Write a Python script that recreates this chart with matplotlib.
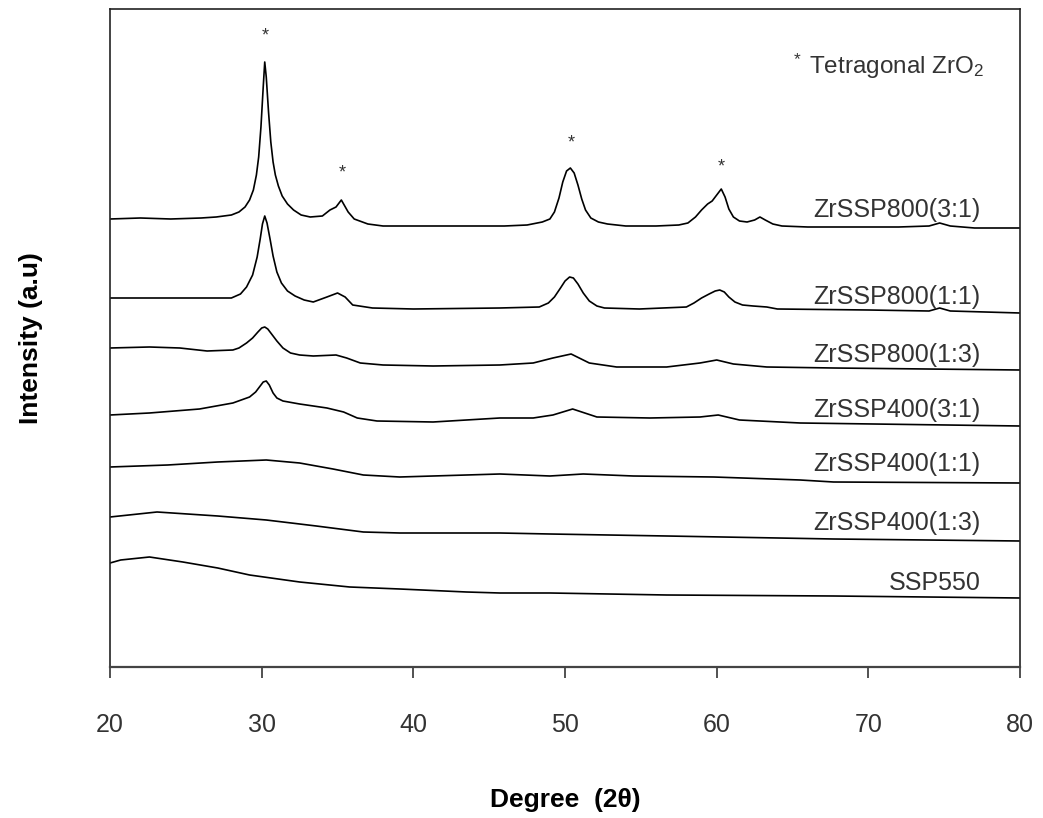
import matplotlib
matplotlib.use("Agg")
import matplotlib.pyplot as plt

plt.rcParams['font.family'] = ['Liberation Sans', 'DejaVu Sans']
plt.rcParams['mathtext.fontset'] = 'custom'
plt.rcParams['mathtext.rm'] = 'Liberation Sans'
plt.rcParams['mathtext.it'] = 'Liberation Sans:italic'

# 2theta / stacked intensity (a.u.)
x_800_31 = [20, 22, 24, 26, 27, 28.0, 28.5, 28.9, 29.2, 29.45, 29.65, 29.8, 29.95, 30.1, 30.2,
            30.3, 30.45, 30.6, 30.75, 30.9, 31.1, 31.35, 31.7, 32.1, 32.6, 33.2, 34.0, 34.5,
            34.9, 35.25, 35.7, 36.1, 37, 38, 40, 42, 44, 46, 47.5, 48.5, 49.0, 49.3, 49.6,
            49.85, 50.1, 50.35, 50.6, 50.85, 51.1, 51.35, 51.7, 52.2, 52.8, 54, 56, 57.5,
            58.1, 58.6, 59.0, 59.4, 59.7, 60.0, 60.3, 60.55, 60.8, 61.1, 61.5, 62.0, 62.5,
            62.85, 63.2, 63.7, 64.3, 66, 68, 70, 72, 74, 74.7, 75.4, 77, 80]
y_800_31 = [448, 449, 448, 449, 450, 452, 455, 460, 467, 477, 492, 510, 540, 580, 605,
            590, 555, 525, 505, 492, 481, 471, 463, 457, 452, 450, 451, 457,
            460, 467, 455, 448, 443, 441, 441, 441, 441, 441, 442, 445, 448, 455, 469,
            485, 496, 499, 494, 482, 468, 457, 449, 445, 443, 441, 441, 442,
            444, 450, 457, 463, 466, 472, 478, 470, 458, 450, 446, 445, 447,
            450, 447, 443, 441, 440, 440, 440, 440, 441, 444, 441, 439, 439]

x_800_11 = [20, 24, 28.0, 28.6, 29.0, 29.4, 29.7, 29.9, 30.05, 30.2, 30.35, 30.55, 30.75, 31.0,
            31.3, 31.7, 32.2, 32.8, 33.4, 34.3, 35.0, 35.5, 36.0, 37.3, 40, 45.7, 48.3, 48.9,
            49.3, 49.7, 50.0, 50.3, 50.55, 50.85, 51.2, 51.6, 52.1, 52.6, 54.9, 58.0, 58.5,
            59.0, 59.5, 59.9, 60.2, 60.5, 60.8, 61.2, 61.7, 62.4, 63.3, 64.0, 70, 74, 74.7,
            75.4, 80]
y_800_11 = [369, 369, 369, 373, 380, 392, 410, 428, 443, 451, 444, 428, 411, 395,
            384, 376, 371, 367, 365, 370, 374, 370, 362, 359, 358, 359, 360, 364,
            370, 379, 386, 390, 389, 383, 374, 366, 361, 359, 358, 360, 364,
            369, 373, 376, 377, 375, 370, 365, 362, 361, 360, 358, 357, 356, 359,
            356, 354]

x_800_13 = [20, 22.6, 24.6, 26.4, 28.1, 28.5, 29.0, 29.4, 29.75, 30.0, 30.2, 30.4, 30.7, 31.0,
            31.4, 31.9, 32.5, 33.4, 34.9, 35.6, 36.5, 38.0, 41.3, 45.7, 47.9, 49.2, 50.4,
            51.6, 53.4, 56.7, 58.9, 60.0, 61.1, 63.3, 67.7, 80]
y_800_13 = [319, 320, 319, 316, 317, 319, 324, 329, 335, 339, 340, 338, 332, 326,
            319, 314, 312, 311, 312, 309, 304, 302, 301, 302, 304, 309, 313,
            304, 300, 300, 304, 307, 303, 300, 299, 297]

x_400_31 = [20, 22.6, 25.9, 28.1, 29.2, 29.6, 29.9, 30.1, 30.3, 30.5, 30.75, 31.0, 31.4, 32.5,
            34.3, 35.4, 36.3, 37.6, 41.3, 45.7, 47.9, 49.2, 50.5, 52.1, 55.6, 58.9, 60.1,
            61.5, 65.5, 80]
y_400_31 = [252, 254, 258, 264, 270, 275, 281, 285, 286, 282, 274, 269, 266, 263,
            259, 255, 249, 246, 245, 249, 249, 252, 258, 250, 249, 250, 252,
            247, 244, 241]

x_400_11 = [20, 23.8, 27.1, 30.3, 32.5, 34.7, 36.7, 39.1, 45.7, 49.0, 51.2, 54.5, 59.8,
            65.5, 67.7, 80]
y_400_11 = [200, 202, 205, 207, 204, 198, 192, 190, 193, 191, 193, 191, 190,
            187, 185, 184]

x_400_13 = [20, 23.1, 27.1, 30.3, 33.6, 36.7, 39.1, 45.7, 49.0, 56.7, 67.7, 80]
y_400_13 = [150, 155, 151, 147, 141, 135, 134, 134, 133, 131, 128, 126]

x_ssp = [20, 20.7, 22.6, 24.8, 27.1, 29.2, 32.5, 35.8, 39.1, 43.5, 45.7, 49.0, 56.7, 67.7, 80]
y_ssp = [104, 107, 110, 105, 99, 92, 85, 80, 78, 75, 74, 74, 72, 71, 69]

curves = [(x_800_31, y_800_31), (x_800_11, y_800_11), (x_800_13, y_800_13),
          (x_400_31, y_400_31), (x_400_11, y_400_11), (x_400_13, y_400_13),
          (x_ssp, y_ssp)]
names = ['ZrSSP800(3:1)', 'ZrSSP800(1:1)', 'ZrSSP800(1:3)', 'ZrSSP400(3:1)',
         'ZrSSP400(1:1)', 'ZrSSP400(1:3)', 'SSP550']
name_y = [457, 370, 312, 257, 203, 144, 84]

star_x = [30.25, 35.3, 50.4, 60.3]
star_y = [631, 494, 524, 500]

fig = plt.figure(figsize=(10.43, 8.18), dpi=100)
ax = fig.add_axes([0.1055, 0.1846, 0.8725, 0.8044])

for xs, ys in curves:
    ax.plot(xs, ys, color='black', lw=1.2)

for name, ny in zip(names, name_y):
    ax.text(77.4, ny, name, ha='right', va='center', fontsize=18, color='#333333')

for sx, sy in zip(star_x, star_y):
    ax.text(sx, sy, '*', ha='center', va='center', fontsize=13, color='#333333')

ax.text(65.0, 600, '$^{*}$', ha='left', va='center', fontsize=18, color='#333333')
ax.text(66.1, 600, 'Tetragonal ZrO$_2$', ha='left', va='center', fontsize=17.5, color='#333333')

ax.set_xlim(20, 80)
ax.set_ylim(0, 658)
ax.set_xticks([20, 30, 40, 50, 60, 70, 80])
ax.set_yticks([])
ax.tick_params(axis='x', direction='out', length=8, width=1.2, pad=25,
               labelsize=18, colors='#333333')
for side in ['left', 'right', 'top']:
    ax.spines[side].set_linewidth(1.2)
    ax.spines[side].set_color('#222222')
ax.spines['bottom'].set_linewidth(1.6)
ax.spines['bottom'].set_color('#444444')

ax.set_xlabel('Degree  (2θ)', fontsize=19, fontweight='bold', labelpad=37)
ax.set_ylabel('Intensity (a.u)', fontsize=19, fontweight='bold', labelpad=48)

fig.savefig('out.png', dpi=100)
